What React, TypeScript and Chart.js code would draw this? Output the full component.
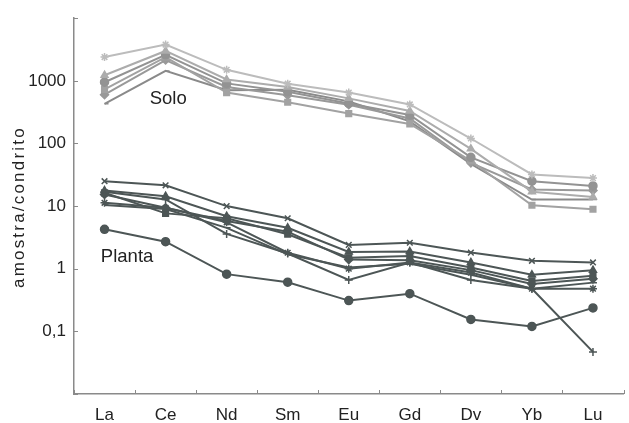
import React, { useEffect, useRef } from "react";
import { Chart, registerables } from "chart.js";

Chart.register(...registerables);

const categories = ["La", "Ce", "Nd", "Sm", "Eu", "Gd", "Dv", "Yb", "Lu"];
const yTickValues = [0.01, 0.1, 1, 10, 100, 1000, 10000];
const yTickLabels = ["", "0,1", "1", "10", "100", "1000", ""];
const yTitle = "amostra/condrito";

// Solo (soil) samples
const solo1 = [2400, 3800, 1500, 900, 650, 420, 120, 32, 28];
const solo2 = [1230, 3000, 1050, 800, 525, 330, 82, 17, 14];
const solo3 = [950, 2600, 910, 670, 435, 285, 60, 25, 21];
const solo4 = [730, 2400, 650, 455, 300, 205, 53, 10.3, 8.9];
const solo5 = [600, 2150, 800, 590, 415, 250, 49, 18.4, 17.8];
const solo6 = [430, 1440, 710, 720, 470, 225, 47, 12.7, 12.7];

// Planta (plant) samples
const planta1 = [25, 21.5, 10, 6.4, 2.4, 2.6, 1.81, 1.34, 1.26];
const planta2 = [4.26, 2.7, 0.82, 0.61, 0.31, 0.4, 0.155, 0.12, 0.237];
const planta3 = [17, 12.8, 3.6, 1.75, 0.66, 1.26, 0.66, 0.48, 0.047];
const planta4 = [17.7, 14.4, 6.9, 4.5, 1.85, 1.88, 1.26, 0.8, 0.95];
const planta5 = [16.3, 7.65, 6.4, 3.55, 1.5, 1.6, 1.05, 0.64, 0.77];
const planta6 = [15.3, 9.4, 5.8, 3.9, 1.4, 1.37, 0.95, 0.57, 0.69];
const planta7 = [11.3, 9.4, 5.5, 1.8, 1.0, 1.26, 0.87, 0.48, 0.48];
const planta8 = [10.4, 9.0, 4.5, 1.7, 1.05, 1.2, 0.8, 0.48, 0.6];

const soloSeries = [solo1, solo2, solo3, solo4, solo5, solo6];
const soloStyles = ["star", "triangle", "circle", "rect", "rectRot", "dash"];
const soloColors = ["#bcbcbc", "#acacac", "#939393", "#a2a2a2", "#999999", "#8a8a8a"];

const plantaSeries = [planta1, planta2, planta3, planta4, planta5, planta6, planta7, planta8];
const plantaStyles = ["crossRot", "circle", "cross", "triangle", "rect", "rectRot", "star", "dash"];
const plantaColor = "#4d5656";

const annotations = [
  { text: "Solo", xIndex: 0.74, yValue: 520 },
  { text: "Planta", xIndex: -0.06, yValue: 1.55 },
];

const axisColor = "#8a8a8a";
const FONT = "'Liberation Sans', Arial, sans-serif";

export default function App() {
  const ref = useRef<HTMLCanvasElement | null>(null);

  useEffect(() => {
    if (!ref.current) return;
    const datasets: any[] = [];
    soloSeries.forEach((d, i) => {
      datasets.push({
        data: d,
        borderColor: soloColors[i],
        backgroundColor: soloColors[i],
        pointBackgroundColor: soloColors[i],
        pointBorderColor: soloColors[i],
        pointStyle: soloStyles[i],
        pointRadius: 4,
        pointBorderWidth: 1.5,
        borderWidth: 2,
        tension: 0,
      });
    });
    plantaSeries.forEach((d, i) => {
      datasets.push({
        data: d,
        borderColor: plantaColor,
        backgroundColor: plantaColor,
        pointBackgroundColor: plantaColor,
        pointBorderColor: plantaColor,
        pointStyle: plantaStyles[i],
        pointRadius: 4,
        pointBorderWidth: 1.5,
        borderWidth: 2,
        tension: 0,
      });
    });

    const overlay = {
      id: "overlay",
      afterDraw(chart: any) {
        const ctx = chart.ctx;
        const x = chart.scales.x;
        const y = chart.scales.y;
        ctx.save();
        ctx.strokeStyle = axisColor;
        ctx.lineWidth = 1;
        for (let i = 0; i <= categories.length; i++) {
          const px = Math.round(x.getPixelForValue(i - 0.5)) + 0.5;
          ctx.beginPath();
          ctx.moveTo(px, y.bottom);
          ctx.lineTo(px, y.bottom - 4);
          ctx.stroke();
        }
        yTickValues.forEach((v) => {
          const py = Math.round(y.getPixelForValue(v)) + 0.5;
          ctx.beginPath();
          ctx.moveTo(x.left, py);
          ctx.lineTo(x.left + 4, py);
          ctx.stroke();
        });
        ctx.fillStyle = "#222";
        ctx.font = "18.5px " + FONT;
        ctx.textAlign = "left";
        ctx.textBaseline = "middle";
        annotations.forEach((a) => {
          ctx.fillText(a.text, x.getPixelForValue(a.xIndex), y.getPixelForValue(a.yValue));
        });
        // y axis title
        ctx.save();
        ctx.translate(19, (y.top + y.bottom) / 2 + 1);
        ctx.rotate(-Math.PI / 2);
        ctx.font = "17px " + FONT;
        (ctx as any).letterSpacing = "2.2px";
        ctx.textAlign = "center";
        ctx.textBaseline = "middle";
        ctx.fillText(yTitle, 0, 0);
        ctx.restore();
        ctx.restore();
      },
    };

    const chart = new Chart(ref.current, {
      type: "line",
      data: { labels: categories, datasets },
      options: {
        animation: false,
        responsive: false,
        maintainAspectRatio: false,
        layout: { padding: { top: 16, right: 1, left: 0, bottom: 0 } },
        plugins: { legend: { display: false }, tooltip: { enabled: false } },
        scales: {
          x: {
            type: "category",
            offset: true,
            grid: { display: false, offset: true, drawTicks: false },
            border: { display: true, color: axisColor, width: 1.5 },
            ticks: { color: "#222", font: { size: 17, family: FONT }, padding: 11, maxRotation: 0 },
            afterFit: (s: any) => {
              s.height = 29;
            },
          },
          y: {
            type: "logarithmic",
            min: 0.01,
            max: 10000,
            grid: { display: false, drawTicks: false },
            border: { display: true, color: axisColor, width: 1.5 },
            afterBuildTicks: (s: any) => {
              s.ticks = yTickValues.map((v) => ({ value: v }));
            },
            ticks: {
              color: "#222",
              font: { size: 17, family: FONT },
              padding: 8,
              autoSkip: false,
              callback: (v: any) => {
                const idx = yTickValues.indexOf(Number(v));
                return idx >= 0 ? yTickLabels[idx] : "";
              },
            },
            afterFit: (s: any) => {
              s.width = 74;
            },
          },
        },
      },
      plugins: [overlay],
    });
    return () => chart.destroy();
  }, []);

  return (
    <div style={{ position: "fixed", left: 0, top: 0, width: 629, height: 423, background: "#fff" }}>
      <canvas ref={ref} width={629} height={423} style={{ width: 629, height: 423 }} />
    </div>
  );
}
